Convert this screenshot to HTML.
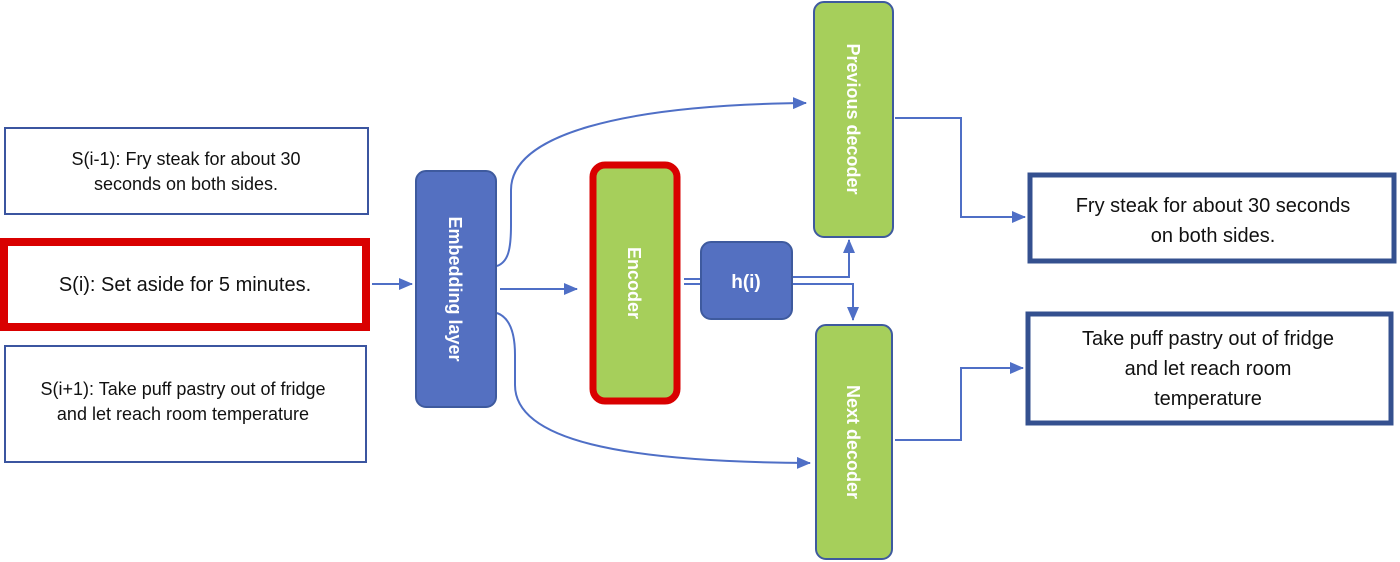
<!DOCTYPE html>
<html><head><meta charset="utf-8"><style>
html,body{margin:0;padding:0;background:#fff;}
svg{display:block;}
text{font-family:"Liberation Sans",sans-serif;}
</style></head><body>
<svg width="1400" height="562" viewBox="0 0 1400 562" xmlns="http://www.w3.org/2000/svg">
<defs>
<marker id="b" markerWidth="14" markerHeight="12" refX="13" refY="6" orient="auto" markerUnits="userSpaceOnUse" viewBox="0 0 14 12">
<path d="M0,0 L14,6 L0,12 z" fill="#4f6fc6"/></marker>
</defs>
<g fill="none" stroke="#4f6fc6" stroke-width="2">
<rect x="5" y="128" width="363" height="86" stroke="#3b55a0"/>
<rect x="5" y="346" width="361" height="116" stroke="#3b55a0"/>
<rect x="4" y="242" width="362" height="85" stroke="#d90000" stroke-width="8"/>
<line x1="372" y1="284" x2="412" y2="284" marker-end="url(#b)"/>
<line x1="500" y1="289" x2="577" y2="289" marker-end="url(#b)"/>
<path d="M497,266 C508,262 511,250 511,225 L511,190 C511,135 620,105 806,103" marker-end="url(#b)"/>
<path d="M497,313 C508,317 515,330 515,355 L515,385 C515,440 620,462 810,463" marker-end="url(#b)"/>
<line x1="684" y1="279" x2="700" y2="279"/>
<line x1="684" y1="284" x2="700" y2="284"/>
<polyline points="792,277 849,277 849,240" marker-end="url(#b)"/>
<polyline points="792,284 853,284 853,320" marker-end="url(#b)"/>
<polyline points="895,118 961,118 961,217 1025,217" marker-end="url(#b)"/>
<polyline points="895,440 961,440 961,368 1023,368" marker-end="url(#b)"/>
</g>
<rect x="416" y="171" width="80" height="236" rx="10" fill="#5470c1" stroke="#3e5a9e" stroke-width="2"/>
<text transform="translate(449,289) rotate(90)" text-anchor="middle" font-size="18" font-weight="bold" fill="#fff">Embedding layer</text>
<rect x="593" y="165" width="84" height="236" rx="12" fill="#a6cf5b" stroke="#d90000" stroke-width="7"/>
<text transform="translate(628,283) rotate(90)" text-anchor="middle" font-size="18" font-weight="bold" fill="#fff">Encoder</text>
<rect x="701" y="242" width="91" height="77" rx="10" fill="#5470c1" stroke="#3e5a9e" stroke-width="2"/>
<text x="746" y="288" text-anchor="middle" font-size="19" font-weight="bold" fill="#fff">h(i)</text>
<rect x="814" y="2" width="79" height="235" rx="10" fill="#a6cf5b" stroke="#3e5a9e" stroke-width="2"/>
<text transform="translate(847,119) rotate(90)" text-anchor="middle" font-size="18" font-weight="bold" fill="#fff">Previous decoder</text>
<rect x="816" y="325" width="76" height="234" rx="10" fill="#a6cf5b" stroke="#3e5a9e" stroke-width="2"/>
<text transform="translate(847,442) rotate(90)" text-anchor="middle" font-size="18" font-weight="bold" fill="#fff">Next decoder</text>
<rect x="1030" y="175" width="364" height="86" fill="none" stroke="#34508f" stroke-width="5"/>
<rect x="1028" y="314" width="363" height="109" fill="none" stroke="#34508f" stroke-width="5"/>
<g font-size="18" fill="#111" text-anchor="middle">
<text x="186" y="165">S(i-1): Fry steak for about 30</text>
<text x="186" y="190">seconds on both sides.</text>
<text x="185" y="291" font-size="20">S(i): Set aside for 5 minutes.</text>
<text x="183" y="395">S(i+1): Take puff pastry out of fridge</text>
<text x="183" y="420">and let reach room temperature</text>
</g>
<g font-size="20" fill="#111" text-anchor="middle">
<text x="1213" y="212">Fry steak for about 30 seconds</text>
<text x="1213" y="242">on both sides.</text>
<text x="1208" y="345">Take puff pastry out of fridge</text>
<text x="1208" y="375">and let reach room</text>
<text x="1208" y="405">temperature</text>
</g>
</svg>
</body></html>
